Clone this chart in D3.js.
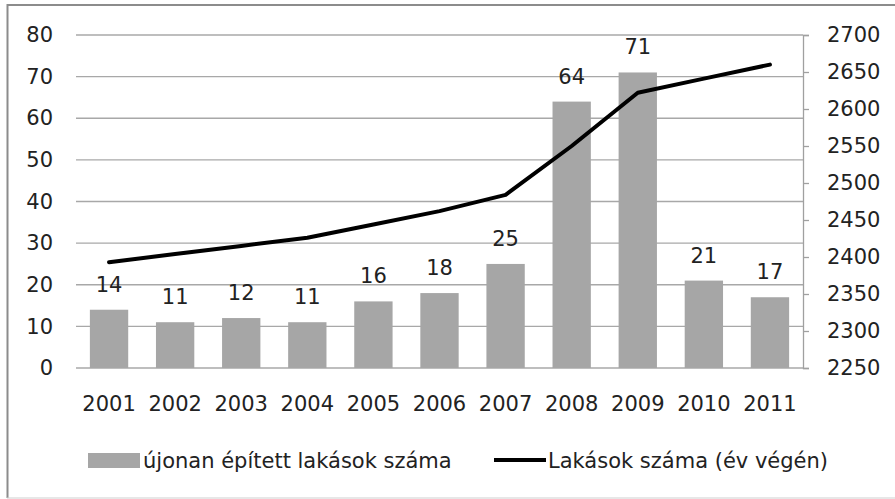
<!DOCTYPE html>
<html><head><meta charset="utf-8">
<script src="https://cdn.jsdelivr.net/npm/d3@7"></script>
<style>body{margin:0;background:#fff}svg{display:block}text{font-family:"DejaVu Sans",sans-serif;fill:#222}</style>
</head><body><svg id="c" width="895" height="499"></svg>
<script>
const years = ["2001","2002","2003","2004","2005","2006","2007","2008","2009","2010","2011"];
const newFlats = [14,11,12,11,16,18,25,64,71,21,17];
const totalFlats = [2393,2404,2415,2426,2444,2462,2484,2550,2622,2641,2660];
const leftTicks = [0,10,20,30,40,50,60,70,80];
const rightTicks = [2250,2300,2350,2400,2450,2500,2550,2600,2650,2700];
const barName = "újonan épített lakások száma";
const lineName = "Lakások száma (év végén)";

const svg = d3.select("#c");
const m = {l:76, r:803, t:35, b:368};
// frame: top & left darker, bottom light, no right edge
svg.append("line").attr("x1",7).attr("x2",895).attr("y1",5).attr("y2",5).attr("stroke","#8c8c8c").attr("stroke-width",2);
svg.append("line").attr("x1",7.5).attr("x2",7.5).attr("y1",4).attr("y2",498).attr("stroke","#8c8c8c").attr("stroke-width",2);
svg.append("line").attr("x1",7).attr("x2",895).attr("y1",498).attr("y2",498).attr("stroke","#cfcfcf").attr("stroke-width",1);

const x = d3.scaleBand().domain(years).range([m.l,m.r]).paddingInner(0.42).paddingOuter(0.21);
const y = d3.scaleLinear().domain([0,80]).range([m.b,m.t]);
const y2 = d3.scaleLinear().domain([2250,2700]).range([m.b,m.t]);
const fs = 21;

// gridlines
svg.append("g").selectAll("line").data(leftTicks).join("line")
  .attr("x1",m.l).attr("x2",m.r).attr("y1",d=>y(d)).attr("y2",d=>y(d))
  .attr("stroke","#a8a8a8").attr("stroke-width",1.3);

// left axis labels
const gl = svg.append("g").attr("transform",`translate(${m.l},0)`)
  .call(d3.axisLeft(y).tickValues(leftTicks).tickSize(0).tickPadding(23));
gl.select(".domain").remove();
gl.selectAll("text").attr("font-size",fs).attr("font-family","DejaVu Sans").attr("fill","#222");

// right axis
const gr = svg.append("g").attr("transform",`translate(${m.r},0)`)
  .call(d3.axisRight(y2).tickValues(rightTicks).tickFormat(d3.format("d")).tickSize(6).tickPadding(18));
gr.select(".domain").attr("stroke","#a0a0a0").attr("stroke-width",1.3);
gr.selectAll(".tick line").attr("stroke","#a0a0a0").attr("stroke-width",1.3);
gr.selectAll("text").attr("font-size",fs).attr("font-family","DejaVu Sans").attr("fill","#222");

// bars
svg.append("g").selectAll("rect").data(newFlats).join("rect")
  .attr("x",(d,i)=>x(years[i])).attr("width",x.bandwidth())
  .attr("y",d=>y(d)).attr("height",d=>y(0)-y(d)).attr("fill","#a6a6a6");

// bar labels
svg.append("g").selectAll("text").data(newFlats).join("text")
  .attr("x",(d,i)=>x(years[i])+x.bandwidth()/2).attr("y",d=>y(d)-18)
  .attr("text-anchor","middle").attr("font-size",fs).text(d=>d);

// x axis labels
const gx = svg.append("g").attr("transform",`translate(0,${m.b})`)
  .call(d3.axisBottom(x).tickSize(0).tickPadding(28));
gx.select(".domain").remove();
gx.selectAll("text").attr("font-size",fs).attr("font-family","DejaVu Sans").attr("fill","#222");

// line
const line = d3.line().x((d,i)=>x(years[i])+x.bandwidth()/2).y(d=>y2(d));
svg.append("path").datum(totalFlats).attr("d",line).attr("fill","none")
  .attr("stroke","#000").attr("stroke-width",4).attr("stroke-linejoin","round").attr("stroke-linecap","round");

// legend
const lg = svg.append("g");
lg.append("rect").attr("x",88).attr("y",453).attr("width",52).attr("height",15).attr("fill","#a6a6a6");
lg.append("text").attr("x",143).attr("y",468).attr("font-size",fs).text(barName);
lg.append("line").attr("x1",494).attr("x2",546).attr("y1",460).attr("y2",460).attr("stroke","#000").attr("stroke-width",4);
lg.append("text").attr("x",548).attr("y",468).attr("font-size",fs).text(lineName);
</script></body></html>
